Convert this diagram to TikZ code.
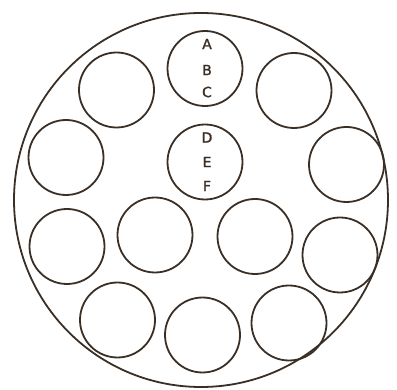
\documentclass[tikz,border=0pt]{standalone}
\usepackage{fontspec}
\setmainfont{DejaVu Sans}
\newfontfamily\lblfont[FakeBold=1.6]{DejaVu Sans}
\definecolor{ink}{HTML}{3A2F26}
\begin{document}
\begin{tikzpicture}[x=1pt,y=-1pt,
  hole/.style={circle,draw=ink,line width=1.8pt,minimum size=75pt,inner sep=0pt},
  lbl/.style={text=ink,font=\lblfont\fontsize{14}{15}\selectfont,inner sep=0pt}]
\useasboundingbox (0,0) rectangle (397,390);
\node[circle,draw=ink,line width=1.8pt,minimum size=374pt,inner sep=0pt] (outer) at (201,200) {};
\node[hole] (abc) at (205,68.5) {};
\node[hole] (def) at (205,162) {};
\node[hole] (h1) at (116.5,90) {};
\node[hole] (h2) at (294,90.5) {};
\node[hole] (h3) at (66,157.5) {};
\node[hole] (h4) at (346.5,164.5) {};
\node[hole] (h5) at (67,246.5) {};
\node[hole] (h6) at (155,235) {};
\node[hole] (h7) at (255,236.5) {};
\node[hole] (h8) at (340,255) {};
\node[hole] (h9) at (117.5,320) {};
\node[hole] (h10) at (202.5,335) {};
\node[hole] (h11) at (289,323) {};
\node[lbl] (la) at (207,44) {A};
\node[lbl] (lb) at (207,70) {B};
\node[lbl] (lc) at (207,92) {C};
\node[lbl] (ld) at (207,137.5) {D};
\node[lbl] (le) at (207,162) {E};
\node[lbl] (lf) at (207,186) {F};
\end{tikzpicture}
\end{document}
